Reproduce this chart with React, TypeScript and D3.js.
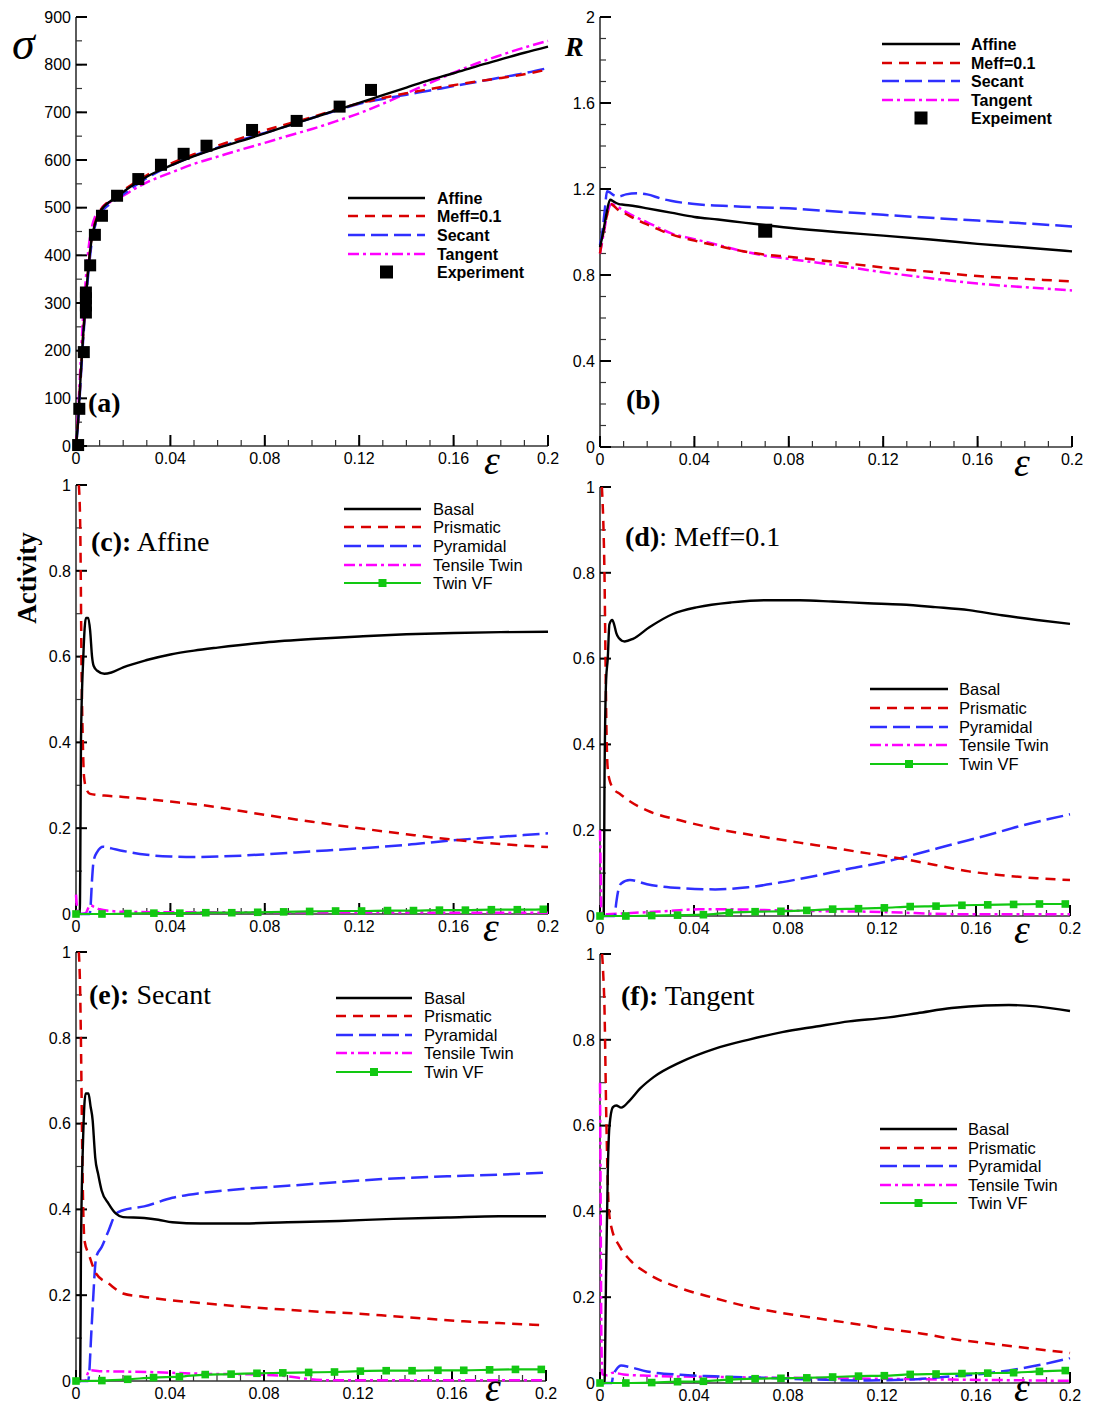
import React from "react";
import * as d3 from "d3";

type P = [number, number];

// ---------- axis ticks ----------
const strainTicks = [0, 0.04, 0.08, 0.12, 0.16, 0.2];
const strainTickLabels = ["0", "0.04", "0.08", "0.12", "0.16", "0.2"];
const stressTicks = [0, 100, 200, 300, 400, 500, 600, 700, 800, 900];
const rTicks = [0, 0.4, 0.8, 1.2, 1.6, 2];
const rTickLabels = ["0", "0.4", "0.8", "1.2", "1.6", "2"];
const actTicks = [0, 0.2, 0.4, 0.6, 0.8, 1];
const actTickLabels = ["0", "0.2", "0.4", "0.6", "0.8", "1"];

// ---------- (a) stress-strain ----------
const stressAffine: P[] = [[0,0],[0.001,60],[0.002,150],[0.003,230],[0.004,300],[0.005,360],[0.006,410],[0.007,445],[0.008,465],[0.01,490],[0.012,503],[0.015,515],[0.02,533],[0.025,550],[0.03,565],[0.04,588],[0.05,608],[0.06,625],[0.07,640],[0.08,656],[0.09,672],[0.1,688],[0.11,704],[0.12,720],[0.13,736],[0.14,752],[0.15,768],[0.16,782],[0.17,797],[0.18,811],[0.19,825],[0.2,838]];
const stressMeff: P[] = [[0,0],[0.001,60],[0.002,150],[0.003,230],[0.004,300],[0.005,362],[0.006,412],[0.007,447],[0.008,467],[0.01,492],[0.012,505],[0.015,518],[0.02,536],[0.025,553],[0.03,568],[0.04,592],[0.05,612],[0.06,630],[0.07,646],[0.08,662],[0.09,676],[0.1,690],[0.11,705],[0.12,719],[0.13,730],[0.14,740],[0.15,749],[0.16,757],[0.17,765],[0.18,772],[0.19,780],[0.2,790]];
const stressSecant: P[] = [[0,0],[0.001,55],[0.002,140],[0.003,220],[0.004,290],[0.005,350],[0.006,400],[0.007,438],[0.008,460],[0.01,485],[0.012,498],[0.015,510],[0.02,528],[0.025,546],[0.03,562],[0.04,588],[0.05,609],[0.06,626],[0.07,642],[0.08,657],[0.09,672],[0.1,688],[0.11,703],[0.12,718],[0.13,728],[0.14,737],[0.15,746],[0.16,755],[0.17,764],[0.18,773],[0.19,782],[0.2,793]];
const stressTangent: P[] = [[0,0],[0.001,80],[0.002,180],[0.003,270],[0.004,340],[0.005,400],[0.006,440],[0.007,465],[0.008,480],[0.01,495],[0.012,505],[0.015,513],[0.02,525],[0.025,540],[0.03,553],[0.04,573],[0.05,592],[0.06,607],[0.07,622],[0.08,636],[0.09,651],[0.1,665],[0.11,681],[0.12,698],[0.13,718],[0.14,740],[0.15,762],[0.16,783],[0.17,803],[0.18,820],[0.19,836],[0.2,850]];
const stressExperiment: P[] = [[0.0009,2],[0.0014,78],[0.0033,197],[0.0042,280],[0.0042,295],[0.0042,310],[0.0042,322],[0.006,379],[0.008,443],[0.011,483],[0.0174,525],[0.0264,560],[0.036,590],[0.0456,613],[0.0553,630],[0.0746,663],[0.0935,682],[0.1117,712],[0.125,747]];

// ---------- (b) R-value ----------
const rAffine: P[] = [[0,0.93],[0.001,0.98],[0.002,1.04],[0.003,1.1],[0.0043,1.15],[0.006,1.14],[0.008,1.13],[0.01,1.127],[0.015,1.12],[0.02,1.11],[0.03,1.09],[0.04,1.07],[0.05,1.058],[0.06,1.045],[0.08,1.02],[0.1,1.0],[0.12,0.983],[0.14,0.965],[0.16,0.945],[0.18,0.928],[0.2,0.91]];
const rMeff: P[] = [[0,0.9],[0.001,0.97],[0.002,1.03],[0.003,1.08],[0.0045,1.13],[0.006,1.12],[0.008,1.1],[0.01,1.09],[0.015,1.06],[0.02,1.035],[0.026,1.006],[0.03,0.99],[0.04,0.96],[0.05,0.935],[0.06,0.912],[0.07,0.895],[0.08,0.885],[0.1,0.86],[0.12,0.835],[0.14,0.815],[0.16,0.795],[0.18,0.782],[0.2,0.77]];
const rSecant: P[] = [[0,0.94],[0.001,1.0],[0.002,1.1],[0.003,1.19],[0.004,1.185],[0.006,1.17],[0.008,1.165],[0.011,1.175],[0.016,1.18],[0.02,1.175],[0.026,1.155],[0.03,1.145],[0.04,1.13],[0.06,1.118],[0.08,1.11],[0.1,1.095],[0.12,1.08],[0.14,1.066],[0.16,1.053],[0.18,1.04],[0.2,1.026]];
const rTangent: P[] = [[0,0.9],[0.001,0.96],[0.002,1.02],[0.003,1.08],[0.005,1.13],[0.007,1.12],[0.01,1.1],[0.015,1.07],[0.02,1.045],[0.026,1.014],[0.03,0.995],[0.04,0.967],[0.05,0.94],[0.06,0.912],[0.07,0.89],[0.08,0.875],[0.1,0.845],[0.12,0.813],[0.14,0.785],[0.16,0.76],[0.18,0.743],[0.2,0.728]];
const rExperiment: P[] = [[0.07,1.006]];

// ---------- twin VF marker strains ----------
const twinVfStrain = [0, 0.011, 0.022, 0.033, 0.044, 0.055, 0.066, 0.077, 0.088, 0.099, 0.11, 0.121, 0.132, 0.143, 0.154, 0.165, 0.176, 0.187, 0.198];

// ---------- (c) Affine ----------
const cBasal: P[] = [[0,0],[0.0016,0],[0.0018,0.1],[0.0021,0.4],[0.0031,0.6],[0.0042,0.69],[0.0052,0.69],[0.006,0.66],[0.0068,0.6],[0.0075,0.578],[0.009,0.567],[0.012,0.56],[0.015,0.563],[0.02,0.575],[0.03,0.592],[0.04,0.605],[0.05,0.614],[0.06,0.621],[0.08,0.633],[0.1,0.641],[0.12,0.647],[0.14,0.652],[0.16,0.655],[0.18,0.657],[0.2,0.658]];
const cPrismatic: P[] = [[0.0012,1],[0.0018,0.9],[0.002,0.8],[0.0023,0.6],[0.0029,0.4],[0.0034,0.32],[0.0045,0.29],[0.006,0.28],[0.012,0.276],[0.02,0.273],[0.03,0.268],[0.04,0.262],[0.05,0.256],[0.06,0.249],[0.07,0.24],[0.08,0.231],[0.09,0.223],[0.1,0.215],[0.12,0.2],[0.14,0.186],[0.16,0.173],[0.18,0.163],[0.2,0.156]];
const cPyramidal: P[] = [[0,0],[0.0058,0],[0.0062,0.02],[0.0068,0.08],[0.0075,0.125],[0.009,0.145],[0.0115,0.157],[0.015,0.153],[0.02,0.147],[0.03,0.138],[0.04,0.134],[0.05,0.133],[0.06,0.134],[0.07,0.136],[0.08,0.139],[0.1,0.146],[0.12,0.153],[0.14,0.161],[0.16,0.172],[0.18,0.18],[0.2,0.188]];
const cTensileTwin: P[] = [[0,0.045],[0.0005,0.01],[0.001,0],[0.004,0.002],[0.006,0.02],[0.008,0.016],[0.01,0.011],[0.015,0.007],[0.02,0.005],[0.04,0.004],[0.08,0.004],[0.12,0.004],[0.16,0.003],[0.2,0.003]];
const cTwinVF = [0,0,0.001,0.002,0.002,0.003,0.003,0.004,0.005,0.006,0.007,0.007,0.008,0.008,0.009,0.009,0.01,0.01,0.011];

// ---------- (d) Meff=0.1 ----------
const dBasal: P[] = [[0,0],[0.0016,0],[0.0019,0.3],[0.0026,0.55],[0.0033,0.6],[0.004,0.68],[0.0052,0.69],[0.006,0.68],[0.0069,0.66],[0.008,0.648],[0.0105,0.64],[0.014,0.646],[0.021,0.673],[0.031,0.704],[0.0416,0.72],[0.056,0.731],[0.07,0.736],[0.085,0.736],[0.099,0.733],[0.114,0.729],[0.128,0.726],[0.1426,0.72],[0.157,0.713],[0.171,0.701],[0.186,0.69],[0.2,0.681]];
const dPrismatic: P[] = [[0.0008,1],[0.0015,0.9],[0.0019,0.8],[0.0023,0.62],[0.0027,0.45],[0.0032,0.35],[0.004,0.318],[0.006,0.295],[0.0084,0.285],[0.012,0.27],[0.02,0.246],[0.034,0.223],[0.049,0.204],[0.07,0.184],[0.092,0.165],[0.114,0.146],[0.128,0.134],[0.1426,0.119],[0.157,0.104],[0.171,0.095],[0.186,0.088],[0.2,0.084]];
const dPyramidal: P[] = [[0,0],[0.0062,0],[0.0069,0.03],[0.008,0.065],[0.009,0.076],[0.0127,0.084],[0.02,0.074],[0.034,0.065],[0.049,0.062],[0.063,0.067],[0.0776,0.079],[0.092,0.094],[0.106,0.11],[0.121,0.126],[0.135,0.145],[0.15,0.167],[0.164,0.187],[0.179,0.21],[0.2,0.237]];
const dTensileTwin: P[] = [[0,0.2],[0.0003,0.1],[0.0006,0.005],[0.003,0.004],[0.01,0.006],[0.02,0.009],[0.03,0.012],[0.042,0.0155],[0.056,0.0155],[0.07,0.014],[0.085,0.012],[0.1,0.011],[0.114,0.01],[0.128,0.008],[0.1426,0.005],[0.16,0.004],[0.2,0.004]];
const dTwinVF = [0,0,0.001,0.002,0.003,0.008,0.01,0.011,0.013,0.016,0.017,0.019,0.022,0.023,0.025,0.026,0.027,0.028,0.028];

// ---------- (e) Secant ----------
const eBasal: P[] = [[0,0],[0.0018,0],[0.0021,0.3],[0.003,0.56],[0.0041,0.67],[0.0053,0.67],[0.0062,0.64],[0.0071,0.607],[0.0078,0.55],[0.0082,0.52],[0.0094,0.483],[0.0109,0.444],[0.0139,0.413],[0.017,0.39],[0.02,0.382],[0.029,0.38],[0.035,0.376],[0.041,0.37],[0.053,0.367],[0.067,0.367],[0.09,0.37],[0.112,0.373],[0.135,0.378],[0.158,0.381],[0.18,0.384],[0.2,0.384]];
const ePrismatic: P[] = [[0.0012,1],[0.0018,0.9],[0.0022,0.75],[0.0026,0.56],[0.003,0.42],[0.0036,0.328],[0.0056,0.293],[0.0086,0.25],[0.0139,0.227],[0.02,0.204],[0.029,0.196],[0.041,0.188],[0.059,0.179],[0.074,0.172],[0.09,0.166],[0.105,0.161],[0.12,0.157],[0.135,0.151],[0.15,0.145],[0.165,0.139],[0.18,0.135],[0.2,0.13]];
const ePyramidal: P[] = [[0,0],[0.0052,0],[0.0056,0.017],[0.0064,0.1],[0.0071,0.172],[0.0086,0.289],[0.0109,0.312],[0.0139,0.351],[0.017,0.39],[0.02,0.398],[0.029,0.407],[0.041,0.427],[0.053,0.438],[0.067,0.446],[0.09,0.455],[0.112,0.464],[0.135,0.472],[0.158,0.477],[0.18,0.481],[0.2,0.486]];
const eTensileTwin: P[] = [[0,0],[0.004,0.001],[0.005,0.018],[0.0064,0.025],[0.01,0.023],[0.02,0.022],[0.03,0.021],[0.041,0.019],[0.053,0.017],[0.074,0.0155],[0.09,0.011],[0.1,0.004],[0.11,0.0015],[0.2,0.0015]];
const eTwinVF = [0,0.001,0.004,0.008,0.01,0.015,0.016,0.018,0.019,0.02,0.021,0.023,0.024,0.024,0.025,0.025,0.026,0.027,0.027];

// ---------- (f) Tangent ----------
const fBasal: P[] = [[0,0],[0.0019,0],[0.0026,0.256],[0.0033,0.488],[0.004,0.597],[0.0055,0.643],[0.0069,0.647],[0.009,0.642],[0.0127,0.659],[0.017,0.686],[0.0228,0.713],[0.0343,0.748],[0.0487,0.779],[0.063,0.8],[0.0775,0.818],[0.092,0.831],[0.106,0.843],[0.121,0.851],[0.135,0.862],[0.1496,0.874],[0.164,0.88],[0.174,0.881],[0.1856,0.878],[0.2,0.867]];
const fPrismatic: P[] = [[0.0009,1],[0.0014,0.95],[0.0019,0.876],[0.0026,0.643],[0.0037,0.41],[0.0048,0.364],[0.0084,0.318],[0.0127,0.287],[0.02,0.256],[0.0343,0.221],[0.0487,0.198],[0.063,0.178],[0.0775,0.163],[0.092,0.151],[0.106,0.14],[0.121,0.127],[0.135,0.117],[0.1496,0.103],[0.164,0.093],[0.178,0.084],[0.2,0.07]];
const fPyramidal: P[] = [[0,0],[0.005,0],[0.0055,0.015],[0.0069,0.031],[0.009,0.041],[0.0127,0.037],[0.02,0.027],[0.0343,0.019],[0.0487,0.0155],[0.07,0.012],[0.092,0.008],[0.1135,0.006],[0.135,0.009],[0.1496,0.0155],[0.164,0.022],[0.178,0.033],[0.188,0.043],[0.2,0.058]];
const fTensileTwin: P[] = [[0,0.7],[0.0003,0.4],[0.0006,0.1],[0.001,0.02],[0.003,0.018],[0.0055,0.024],[0.01,0.02],[0.02,0.017],[0.05,0.014],[0.1,0.011],[0.15,0.008],[0.2,0.005]];
const fTwinVF = [0,0,0.001,0.003,0.004,0.008,0.01,0.011,0.012,0.014,0.016,0.017,0.02,0.021,0.022,0.023,0.024,0.027,0.029];

// ---------- styles ----------
const SANS = "'Liberation Sans', Arial, Helvetica, sans-serif";
const SERIF = "'Liberation Serif', 'Times New Roman', Times, serif";

type Style = { color: string; dash?: string; width: number; marker?: boolean };
const S_BLACK: Style = { color: "#000000", width: 2.4 };
const S_RED: Style = { color: "#d90000", dash: "10,7", width: 2.5 };
const S_BLUE: Style = { color: "#2f2fff", dash: "17,6", width: 2.5 };
const S_MAG: Style = { color: "#ff00ff", dash: "11,4,3,4", width: 2.5 };
const S_GREEN: Style = { color: "#12c812", width: 2.2, marker: true };

type Series = { name: string; data: P[]; style: Style };

type Frame = { x0: number; x1: number; yTop: number; yBot: number };

type LegendCfg = {
  lx0: number; lx1: number; tx: number; rows: number[];
  bold: boolean; size: number; entries: { name: string; style?: Style; square?: boolean }[];
};

function Legend({ cfg }: { cfg: LegendCfg }) {
  return (
    <g>
      {cfg.entries.map((e, i) => {
        const y = cfg.rows[i];
        const mid = (cfg.lx0 + cfg.lx1) / 2;
        return (
          <g key={i}>
            {e.square ? (
              <rect x={mid - 6.5} y={y - 6.5} width={13} height={13} fill="#000" />
            ) : (
              <line x1={cfg.lx0} x2={cfg.lx1} y1={y} y2={y} stroke={e.style!.color}
                strokeWidth={e.style!.width} strokeDasharray={e.style!.dash} />
            )}
            {e.style && e.style.marker ? (
              <rect x={mid - 4} y={y - 4} width={8} height={8} fill={e.style.color} />
            ) : null}
            <text x={cfg.tx} y={y} dy="0.36em" fontFamily={SANS} fontSize={cfg.size}
              fontWeight={cfg.bold ? "bold" : "normal"} fill="#000">{e.name}</text>
          </g>
        );
      })}
    </g>
  );
}

type PanelProps = {
  frame: Frame;
  yMax: number;
  yTicks: number[];
  yTickLabels: string[];
  yMinorCount: number;
  series: Series[];
  vf?: number[];
  squares?: P[];
  squareSize?: number;
  legend: LegendCfg;
  epsPos: [number, number];
};

function Panel(p: PanelProps) {
  const { frame } = p;
  const xs = d3.scaleLinear().domain([0, 0.2]).range([frame.x0, frame.x1]);
  const ys = d3.scaleLinear().domain([0, p.yMax]).range([frame.yBot, frame.yTop]);
  const line = d3.line<P>().x((d) => xs(d[0])).y((d) => ys(d[1])).curve(d3.curveMonotoneX);
  const xMinor = xs.ticks(20);
  const yMinor = ys.ticks(p.yMinorCount);
  return (
    <g>
      {/* axes */}
      <line x1={frame.x0} x2={frame.x0} y1={frame.yTop} y2={frame.yBot} stroke="#333" strokeWidth={1.6} />
      <line x1={frame.x0} x2={frame.x1} y1={frame.yBot} y2={frame.yBot} stroke="#333" strokeWidth={1.6} />
      {yMinor.map((v, i) => (
        <line key={"ym" + i} x1={frame.x0} x2={frame.x0 + 6} y1={ys(v)} y2={ys(v)} stroke="#333" strokeWidth={1.2} />
      ))}
      {p.yTicks.map((v, i) => (
        <g key={"yt" + i}>
          <line x1={frame.x0} x2={frame.x0 + 11} y1={ys(v)} y2={ys(v)} stroke="#000" strokeWidth={2} />
          <text x={frame.x0 - 5} y={ys(v)} dy="0.36em" textAnchor="end" fontFamily={SANS} fontSize={16} fill="#000">
            {p.yTickLabels[i]}
          </text>
        </g>
      ))}
      {xMinor.map((v, i) => (
        <line key={"xm" + i} x1={xs(v)} x2={xs(v)} y1={frame.yBot} y2={frame.yBot - 6} stroke="#333" strokeWidth={1.2} />
      ))}
      {strainTicks.map((v, i) => (
        <g key={"xt" + i}>
          <line x1={xs(v)} x2={xs(v)} y1={frame.yBot} y2={frame.yBot - 11} stroke="#000" strokeWidth={2} />
          <text x={xs(v)} y={frame.yBot + 18} textAnchor="middle" fontFamily={SANS} fontSize={16} fill="#000">
            {strainTickLabels[i]}
          </text>
        </g>
      ))}
      {/* series */}
      {p.series.map((s, i) => (
        <path key={"s" + i} d={line(s.data) || ""} fill="none" stroke={s.style.color}
          strokeWidth={s.style.width} strokeDasharray={s.style.dash} strokeLinejoin="round" />
      ))}
      {p.vf ? (
        <g>
          <path d={line(p.vf.map((v, i) => [twinVfStrain[i], v] as P)) || ""} fill="none"
            stroke={S_GREEN.color} strokeWidth={S_GREEN.width} />
          {p.vf.map((v, i) => (
            <rect key={"vf" + i} x={xs(twinVfStrain[i]) - 3.8} y={ys(v) - 3.8} width={7.6} height={7.6} fill={S_GREEN.color} />
          ))}
        </g>
      ) : null}
      {p.squares
        ? p.squares.map((d, i) => {
            const s = p.squareSize || 12;
            return <rect key={"sq" + i} x={xs(d[0]) - s / 2} y={ys(d[1]) - s / 2} width={s} height={s} fill="#000" />;
          })
        : null}
      <Legend cfg={p.legend} />
      <text x={p.epsPos[0]} y={p.epsPos[1]} textAnchor="middle" fontFamily={SERIF} fontStyle="italic"
        fontSize={40} fill="#000">ε</text>
    </g>
  );
}

const modelEntries = (expName: string) => [
  { name: "Affine", style: S_BLACK },
  { name: "Meff=0.1", style: S_RED },
  { name: "Secant", style: S_BLUE },
  { name: "Tangent", style: S_MAG },
  { name: expName, square: true },
];
const slipEntries = [
  { name: "Basal", style: S_BLACK },
  { name: "Prismatic", style: S_RED },
  { name: "Pyramidal", style: S_BLUE },
  { name: "Tensile Twin", style: S_MAG },
  { name: "Twin VF", style: S_GREEN },
];

function slip(b: P[], pr: P[], py: P[], tt: P[]): Series[] {
  return [
    { name: "Tensile Twin", data: tt, style: S_MAG },
    { name: "Pyramidal", data: py, style: S_BLUE },
    { name: "Prismatic", data: pr, style: S_RED },
    { name: "Basal", data: b, style: S_BLACK },
  ];
}

function PanelLabel({ x, y, bold, rest }: { x: number; y: number; bold: string; rest: string }) {
  return (
    <text x={x} y={y} fontFamily={SERIF} fontSize={28} fill="#000">
      <tspan fontWeight="bold">{bold}</tspan>
      <tspan>{rest}</tspan>
    </text>
  );
}

export default function App() {
  return (
    <svg width={1093} height={1412} viewBox="0 0 1093 1412"
      style={{ position: "absolute", left: 0, top: 0, background: "#fff" }}>
      <rect x={0} y={0} width={1093} height={1412} fill="#fff" />
      {/* (a) */}
      <Panel frame={{ x0: 76, x1: 548, yTop: 17, yBot: 446 }} yMax={900} yTicks={stressTicks}
        yTickLabels={stressTicks.map(String)} yMinorCount={18}
        series={[
          { name: "Tangent", data: stressTangent, style: S_MAG },
          { name: "Secant", data: stressSecant, style: S_BLUE },
          { name: "Meff", data: stressMeff, style: S_RED },
          { name: "Affine", data: stressAffine, style: S_BLACK },
        ]}
        squares={stressExperiment} squareSize={12}
        legend={{ lx0: 348, lx1: 425, tx: 437, rows: [198, 216, 235, 254, 272], bold: true, size: 16, entries: modelEntries("Experiment") }}
        epsPos={[492, 474]} />
      {/* (b) */}
      <Panel frame={{ x0: 600, x1: 1072, yTop: 17, yBot: 447 }} yMax={2} yTicks={rTicks}
        yTickLabels={rTickLabels} yMinorCount={20}
        series={[
          { name: "Tangent", data: rTangent, style: S_MAG },
          { name: "Meff", data: rMeff, style: S_RED },
          { name: "Secant", data: rSecant, style: S_BLUE },
          { name: "Affine", data: rAffine, style: S_BLACK },
        ]}
        squares={rExperiment} squareSize={14}
        legend={{ lx0: 882, lx1: 960, tx: 971, rows: [44, 63, 81, 100, 118], bold: true, size: 16, entries: modelEntries("Expeiment") }}
        epsPos={[1022, 476]} />
      {/* (c) */}
      <Panel frame={{ x0: 76, x1: 548, yTop: 485, yBot: 914 }} yMax={1} yTicks={actTicks}
        yTickLabels={actTickLabels} yMinorCount={10}
        series={slip(cBasal, cPrismatic, cPyramidal, cTensileTwin)} vf={cTwinVF}
        legend={{ lx0: 344, lx1: 421, tx: 433, rows: [509, 527, 546, 565, 583], bold: false, size: 16.5, entries: slipEntries }}
        epsPos={[491, 941]} />
      {/* (d) */}
      <Panel frame={{ x0: 600, x1: 1070, yTop: 487, yBot: 916 }} yMax={1} yTicks={actTicks}
        yTickLabels={actTickLabels} yMinorCount={10}
        series={slip(dBasal, dPrismatic, dPyramidal, dTensileTwin)} vf={dTwinVF}
        legend={{ lx0: 870, lx1: 948, tx: 959, rows: [689, 708, 727, 745, 764], bold: false, size: 16.5, entries: slipEntries }}
        epsPos={[1022, 943]} />
      {/* (e) */}
      <Panel frame={{ x0: 76, x1: 546, yTop: 952, yBot: 1381 }} yMax={1} yTicks={actTicks}
        yTickLabels={actTickLabels} yMinorCount={10}
        series={slip(eBasal, ePrismatic, ePyramidal, eTensileTwin)} vf={eTwinVF}
        legend={{ lx0: 336, lx1: 412, tx: 424, rows: [998, 1016, 1035, 1053, 1072], bold: false, size: 16.5, entries: slipEntries }}
        epsPos={[493, 1401]} />
      {/* (f) */}
      <Panel frame={{ x0: 600, x1: 1070, yTop: 954, yBot: 1383 }} yMax={1} yTicks={actTicks}
        yTickLabels={actTickLabels} yMinorCount={10}
        series={slip(fBasal, fPrismatic, fPyramidal, fTensileTwin)} vf={fTwinVF}
        legend={{ lx0: 880, lx1: 957, tx: 968, rows: [1129, 1148, 1166, 1185, 1203], bold: false, size: 16.5, entries: slipEntries }}
        epsPos={[1022, 1401]} />

      {/* axis titles */}
      <text x={12} y={59} fontFamily={SERIF} fontStyle="italic" fontSize={46} fill="#000">σ</text>
      <text x={565} y={56} fontFamily={SERIF} fontStyle="italic" fontWeight="bold" fontSize={28} fill="#000">R</text>
      <text transform="translate(36,578) rotate(-90)" textAnchor="middle" fontFamily={SERIF}
        fontWeight="bold" fontSize={27} fill="#000">Activity</text>

      {/* panel labels */}
      <PanelLabel x={88} y={412} bold="(a)" rest="" />
      <PanelLabel x={626} y={409} bold="(b)" rest="" />
      <PanelLabel x={91} y={551} bold="(c):" rest=" Affine" />
      <PanelLabel x={625} y={546} bold="(d)" rest=": Meff=0.1" />
      <PanelLabel x={89} y={1004} bold="(e):" rest=" Secant" />
      <PanelLabel x={621} y={1005} bold="(f):" rest=" Tangent" />
    </svg>
  );
}
